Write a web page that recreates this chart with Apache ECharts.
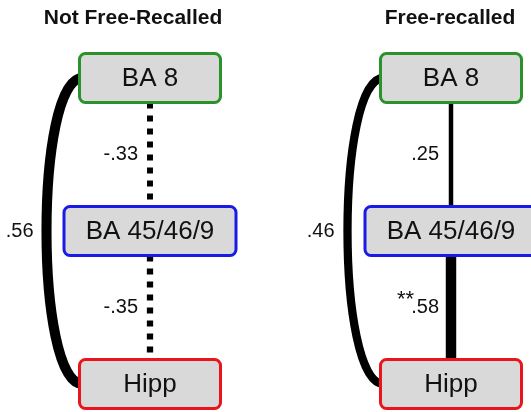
<!DOCTYPE html>
<html lang="en">
<head>
	<meta charset="UTF-8">
	<title>Path model</title>
	<style>html,body{margin:0;padding:0;background:#fff}</style>
</head>
<body>
	<div id="main" style="width: 531px;height: 412px"></div>
	<script src="https://cdn.jsdelivr.net/npm/echarts@6/dist/echarts.min.js"></script>
	<script>
		var panels = ['Not Free-Recalled', 'Free-recalled']
		var regions = ['BA 8', 'BA 45/46/9', 'Hipp']
		// paths: index into regions
		var pathFrom = [0, 1, 0]
		var pathTo = [1, 2, 2]
		var notRecalled = [-0.33, -0.35, 0.56]
		var recalled = [0.25, 0.58, 0.46]
		var notRecalledSig = ['', '', '']
		var recalledSig = ['', '**', '']

		var font = 'Helvetica, "Liberation Sans", Arial, sans-serif'
		var borderColors = ['#2a922a', '#1a1ae6', '#e8161c']
		var boxWidths = [141, 172, 141]
		var boxH = 49

		function fmt(v) {
			return (v < 0 ? '-' : '') + Math.abs(v).toFixed(2).slice(1)
		}

		var linkData = []
		var sigs = []
		;[notRecalled, recalled].forEach(function (vals, p) {
			var s = p === 0 ? notRecalledSig : recalledSig
			vals.forEach(function (v, k) {
				linkData.push([p, pathFrom[k], pathTo[k], v])
				sigs.push(s[k])
			})
		})
		var nodeData = []
		panels.forEach(function (name, p) {
			regions.forEach(function (r, i) { nodeData.push([p, i]) })
		})

		function renderLink(params, api) {
			var p = api.value(0), a = api.value(1), b = api.value(2), r = api.value(3)
			var p1 = api.coord([p, a]), p2 = api.coord([p, b])
			var style = {
				stroke: '#000', fill: null, lineWidth: Math.abs(r) * 18,
				lineDash: r < 0 ? [6, 7] : null
			}
			var shape, lx, ly, elType
			if (b - a === 1) {
				var y1 = p1[1] + boxH / 2, y2 = p2[1] - boxH / 2
				elType = 'line'
				shape = { x1: p1[0], y1: y1, x2: p1[0], y2: y2 }
				lx = p1[0] - 12
				ly = (y1 + y2) / 2
			} else {
				var xl = p1[0] - boxWidths[a] / 2 + 3
				elType = 'bezierCurve'
				shape = {
					x1: xl, y1: p1[1], x2: xl, y2: p2[1],
					cpx1: xl - 48, cpy1: p1[1], cpx2: xl - 48, cpy2: p2[1]
				}
				lx = xl - 49
				ly = (p1[1] + p2[1]) / 2
			}
			var children = [
				{ type: elType, shape: shape, style: style },
				{ type: 'text', x: lx, y: ly, style: {
					text: fmt(r), fill: '#111', font: '20px ' + font,
					textAlign: 'right', textVerticalAlign: 'middle' } }
			]
			if (sigs[params.dataIndex]) {
				children.push({ type: 'text', x: lx - 25, y: ly - 8, style: {
					text: sigs[params.dataIndex], fill: '#111', font: '22px ' + font,
					textAlign: 'right', textVerticalAlign: 'middle' } })
			}
			return { type: 'group', children: children }
		}

		function renderNode(params, api) {
			var lvl = api.value(1)
			var c = api.coord([api.value(0), lvl])
			var bw = boxWidths[lvl]
			return { type: 'group', children: [
				{ type: 'rect', shape: { x: c[0] - bw / 2, y: c[1] - boxH / 2, width: bw, height: boxH, r: 6 },
					style: { fill: '#d9d9d9', stroke: borderColors[lvl], lineWidth: 3 } },
				{ type: 'text', x: c[0], y: c[1] + 1, style: {
					text: regions[lvl], fill: '#111', font: '26px ' + font,
					textAlign: 'center', textVerticalAlign: 'middle' } }
			] }
		}

		var myChart = echarts.init(document.getElementById('main'))
		var option = {
			animation: false,
			title: [
				{ text: panels[0], left: 133, top: 8, textAlign: 'center', padding: 0,
					textStyle: { fontSize: 21, fontWeight: 'bold', color: '#111', fontFamily: font } },
				{ text: panels[1], left: 450, top: 8, textAlign: 'center', padding: 0,
					textStyle: { fontSize: 21, fontWeight: 'bold', color: '#111', fontFamily: font } }
			],
			grid: { left: 150, right: 80, top: 78, bottom: 28 },
			xAxis: { type: 'value', min: 0, max: 1, show: false },
			yAxis: { type: 'value', min: 0, max: 2, inverse: true, show: false },
			series: [
				{ type: 'custom', renderItem: renderLink, data: linkData, silent: true, z: 1 },
				{ type: 'custom', renderItem: renderNode, data: nodeData, silent: true, z: 2 }
			]
		}
		myChart.setOption(option)
	</script>
</body>
</html>
